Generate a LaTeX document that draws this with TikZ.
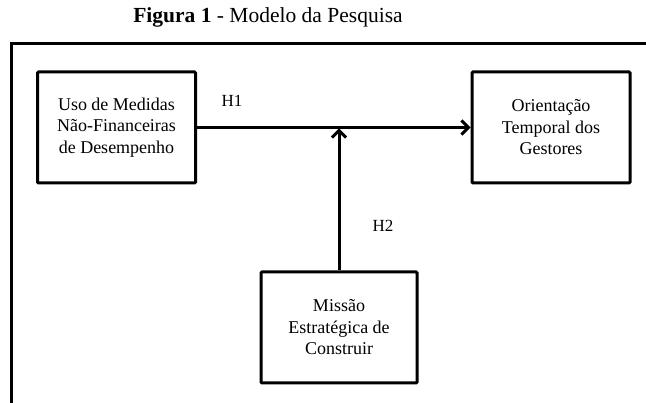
\documentclass[tikz,border=0pt]{standalone}
\usepackage{fontspec}
\setmainfont{Liberation Serif}
\usetikzlibrary{arrows.meta}
\begin{document}
\begin{tikzpicture}[x=1pt,y=-1pt,
  box/.style={draw,line width=3pt,rounded corners=1pt,minimum width=158pt,minimum height=111pt,align=center,font=\fontsize{18}{21.5}\selectfont,inner sep=0pt},
  conn/.style={line width=3pt,-{Straight Barb[length=7pt,width=14pt,line width=3pt]}},
  lbl/.style={font=\fontsize{17}{19}\selectfont}]
\useasboundingbox (0,0) rectangle (646,403);
\node[font=\fontsize{21.5}{24}\selectfont] (title) at (268,17) {\textbf{Figura 1} - Modelo da Pesquisa};
\coordinate (fb) at (11,405);
\coordinate (ftl) at (11,44);
\coordinate (fr) at (648,44);
\draw[line width=3pt] (fb) -- (ftl) -- (fr);
\node[box] (uso) at (116.5,127.5) {Uso de Medidas\\Não-Financeiras\\de Desempenho};
\node[box] (ori) at (551,127.5) {Orientação\\Temporal dos\\Gestores};
\node[box,minimum width=156pt] (mis) at (339,327.5) {Missão\\Estratégica de\\Construir};
\draw[conn] (uso.east) -- (ori.west);
\coordinate (meet) at (339,128.5);
\draw[conn] (mis.north) -- (meet);
\node[lbl] (h1) at (232,101) {H1};
\node[lbl] (h2) at (383,226) {H2};
\end{tikzpicture}
\end{document}
